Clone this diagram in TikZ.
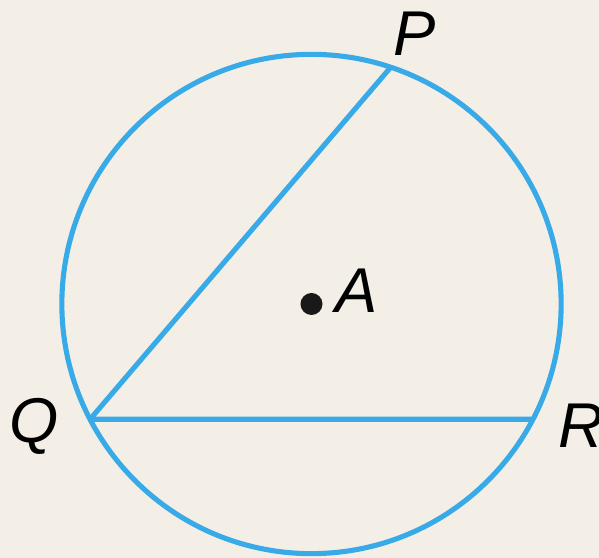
\documentclass[tikz,border=0pt]{standalone}
\usepackage{fontspec}
\setmainfont{Liberation Sans}
\usetikzlibrary{calc}
\definecolor{paper}{RGB}{243,239,231}
\definecolor{rim}{RGB}{56,170,232}
\tikzset{
  edge/.style={draw=rim,line width=1.45pt},
  lbl/.style={font=\fontsize{18}{20}\selectfont\itshape,inner sep=0pt}
}
\begin{document}
\begin{tikzpicture}[x=0.01cm,y=-0.01cm]
  \fill[paper] (0,0) rectangle (599,558);
  \useasboundingbox (0,0) rectangle (599,558);
  \coordinate (A) at (311.5,304);
  \draw[edge] (A) circle[radius=2.495cm];
  \coordinate (P) at ($(A)+(71.5:2.495cm)$);
  \coordinate (Q) at ($(A)+(207.5:2.495cm)$);
  \coordinate (R) at ($(A)+(-27.5:2.495cm)$);
  \draw[edge,line join=round] (P) -- (Q) -- (R);
  \node[circle,fill=black!90,inner sep=0pt,minimum size=0.22cm] (dot) at (A) {};
  \node[lbl] (labA) at (357,291) {A};
  \node[lbl] (labP) at (415,34) {P};
  \node[lbl] (labQ) at (34,426) {Q};
  \node[lbl] (labR) at (581,426) {R};
\end{tikzpicture}
\end{document}
